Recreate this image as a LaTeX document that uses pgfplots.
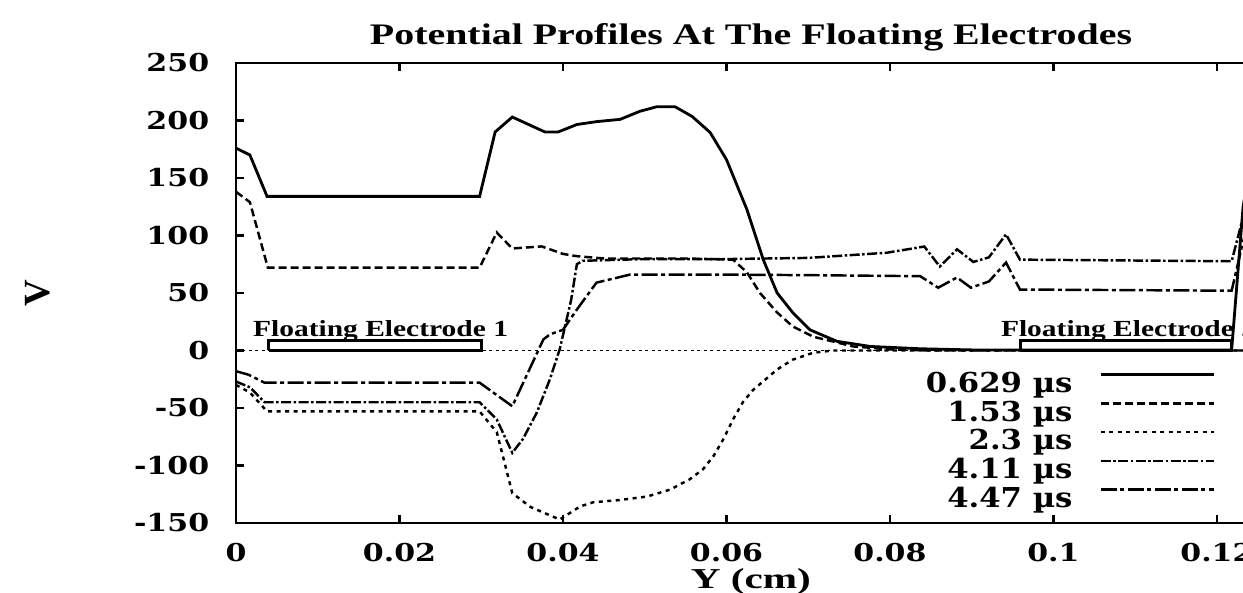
\documentclass[border=0pt]{standalone}
\usepackage{fontspec}
\setmainfont{Liberation Serif}
\newfontfamily\dvs{DejaVu Serif}
\usepackage{graphicx}
\usepackage{pgfplots}
\pgfplotsset{compat=1.18}

\begin{document}
\begin{tikzpicture}
\path[use as bounding box] (-23.6mm,-7mm) rectangle (100.7mm,52.3mm);
\clip (-23.6mm,-7mm) rectangle (100.7mm,52.3mm);
\begin{axis}[
  at={(0,0)}, anchor=south west,
  scale only axis, width=103.0mm, height=46mm,
  xmin=0, xmax=0.126, ymin=-150, ymax=250,
  axis line style={line width=0.8pt},
  tick align=inside, major tick length=0.8mm,
  every tick/.style={line width=0.8pt, black},
  xtick={0,0.02,0.04,0.06,0.08,0.1,0.12},
  xticklabels={0,0.02,0.04,0.06,0.08,0.1,0.12},
  ytick={-150,-100,-50,0,50,100,150,200,250},
  yticklabels={-150,-100,-50,0,50,100,150,200,250},
  tick label style={font=\dvs\bfseries\fontsize{7}{8}\selectfont, inner sep=0pt},
  xticklabel style={anchor=north, yshift=-2.0mm, xscale=1.22},
  yticklabel style={anchor=east, xshift=-2.6mm, xscale=1.22},
  title={\resizebox{76.2mm}{2.1mm}{\bfseries Potential Profiles At The Floating Electrodes}},
  title style={at={(0.5,1)}, anchor=base, yshift=-0.3mm, inner sep=0pt},
  xlabel={\resizebox{12mm}{2.0mm}{\bfseries Y (cm)}},
  xlabel style={at={(0.5,0)}, anchor=base, yshift=-6.6mm, inner sep=0pt},
  ylabel={\bfseries\fontsize{10.5}{12}\selectfont V},
  ylabel style={at={(-0.1922,0.5)}, anchor=center, inner sep=0pt},
  legend style={draw=none, fill=none, inner sep=0pt, outer sep=0pt,
    at={(0.9508,0.3315)}, anchor=north east, legend cell align=right,
    column sep=2.7mm, row sep=0pt,
    font=\dvs\bfseries\fontsize{7.8}{9}\selectfont,
    nodes={inner sep=0pt, text height=2.2mm, text depth=0.67mm}},
  legend plot pos=right,
  legend image code/.code={\draw[#1] (0mm,1mm) -- (11.3mm,1mm);},
]
% zero axis
\addplot[black, line width=0.5pt, dash pattern=on 0.3mm off 0.35mm, forget plot] coordinates {(0,0) (0.126,0)};
% electrodes
\addplot[black, line width=0.8pt, forget plot] coordinates {(0.004,0) (0.004,9) (0.03,9) (0.03,0) (0.004,0)};
\addplot[black, line width=0.8pt, forget plot] coordinates {(0.096,0) (0.096,9) (0.1218,9) (0.1218,0) (0.096,0)};

\addplot[black, line width=0.8pt] coordinates {
(0,176)(0.0017,170)(0.0038,134)(0.0298,134)(0.0317,190)(0.0338,203)(0.0378,190)(0.0394,190)(0.0417,196.5)(0.0441,199)(0.047,201)(0.0494,208)(0.0515,212)(0.0537,212)(0.0558,203.5)(0.058,189.6)(0.060,166)(0.0625,122.6)(0.0645,79)(0.0662,50)(0.0681,33)(0.0702,18)(0.0735,8)(0.0776,3.5)(0.0837,1.5)(0.09,0.5)(0.1218,0.5)(0.1232,125)(0.124,160)};
\addlegendentry{\scalebox{1.12}[1]{0.629 µs}}

\addplot[black, line width=0.7pt, dash pattern=on 0.8mm off 0.4mm] coordinates {
(0,138)(0.0017,129)(0.0039,72)(0.0298,72)(0.0319,102.6)(0.0338,88.7)(0.0374,90.5)(0.040,84)(0.0417,82)(0.045,80)(0.055,80)(0.0608,79)(0.0625,68)(0.0641,50)(0.0662,33)(0.0681,21)(0.0706,12)(0.0735,7)(0.0755,3.5)(0.08,1)(0.085,0)(0.124,0)};
\addlegendentry{\scalebox{1.12}[1]{1.53 µs}}

\addplot[black, line width=0.7pt, dash pattern=on 0.4mm off 0.45mm] coordinates {
(0,-30)(0.0017,-36.5)(0.0038,-53)(0.0298,-53)(0.0319,-71)(0.0338,-124)(0.036,-136)(0.0396,-147)(0.0421,-135.6)(0.0437,-132)(0.047,-130)(0.0503,-127)(0.0531,-121)(0.0555,-112)(0.0571,-103.5)(0.0584,-92)(0.0596,-77.4)(0.0608,-60)(0.062,-45)(0.0633,-34)(0.0643,-28)(0.0662,-16.5)(0.0681,-8)(0.0706,-2)(0.073,0)(0.124,0)};
\addlegendentry{\scalebox{1.12}[1]{2.3 µs}}

\addplot[black, line width=0.7pt, dash pattern=on 1.0mm off 0.25mm on 0.25mm off 0.25mm] coordinates {
(0,-27)(0.0017,-32)(0.0035,-45)(0.0298,-45)(0.0319,-60)(0.0338,-89)(0.0351,-77)(0.0368,-54)(0.0384,-25)(0.0396,1)(0.041,44)(0.0417,75)(0.0424,78)(0.05,79.5)(0.06,79.5)(0.07,80.5)(0.0796,85)(0.0842,90.4)(0.0861,73)(0.0882,88)(0.0902,77)(0.0921,81)(0.0942,101)(0.0959,79)(0.1218,77.6)(0.1232,116)(0.124,140)};
\addlegendentry{\scalebox{1.12}[1]{4.11 µs}}

\addplot[black, line width=0.7pt, dash pattern=on 1.6mm off 0.35mm on 0.4mm off 0.35mm] coordinates {
(0,-18)(0.0015,-21)(0.0035,-28)(0.0298,-28)(0.0338,-48.5)(0.0376,9.6)(0.0384,14)(0.040,18)(0.0417,35.6)(0.0441,59)(0.0482,66)(0.06,66)(0.07,65.5)(0.0837,64.6)(0.0859,54.6)(0.0882,63.5)(0.0899,54.6)(0.0921,60)(0.0942,76.5)(0.0959,53)(0.1218,52)(0.1232,95)(0.124,115)};
\addlegendentry{\scalebox{1.12}[1]{4.47 µs}}

\node[anchor=base west, inner sep=0pt] at (axis cs:0.002,12) {\resizebox{25.5mm}{1.6mm}{\bfseries Floating Electrode 1}};
\node[anchor=base west, inner sep=0pt] at (axis cs:0.0935,12) {\resizebox{25.5mm}{1.6mm}{\bfseries Floating Electrode 2}};
\end{axis}
\end{tikzpicture}
\end{document}
